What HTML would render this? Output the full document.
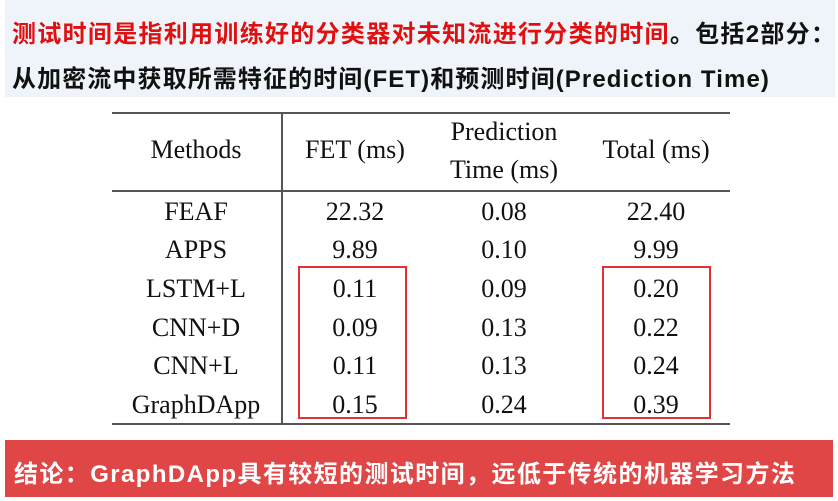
<!DOCTYPE html>
<html><head><meta charset="utf-8"><style>
body{margin:0;width:838px;height:501px;background:#fff;position:relative;overflow:hidden;font-family:"Liberation Sans","Noto Sans CJK SC",sans-serif}
.top{position:absolute;left:5px;top:0;width:830px;height:97px;background:#eef4f9}
.t{position:absolute;left:12px;font-weight:bold;font-size:24px;white-space:nowrap}
.line{position:absolute;background:#555}
.c{position:absolute;font-family:"Liberation Serif",serif;font-size:26px;color:#111;transform:translate(-50%,-50%);white-space:nowrap}
.box{position:absolute;border:2px solid #d33;box-sizing:border-box}
.banner{position:absolute;left:5px;top:440px;width:828px;height:57px;background:#e04646}
</style></head><body>
<div class="top"></div>
<div class="t" style="top:14px;color:#e01010;letter-spacing:1.3px">测试时间是指利用训练好的分类器对未知流进行分类的时间<span style="color:#111">。包括2部分：</span></div>
<div class="t" style="top:59px;color:#111;letter-spacing:1.1px">从加密流中获取所需特征的时间(FET)和预测时间(Prediction Time)</div>
<div class="line" style="left:112px;top:112px;width:618px;height:2px"></div>
<div class="line" style="left:112px;top:190px;width:618px;height:2px"></div>
<div class="line" style="left:112px;top:423px;width:618px;height:2px"></div>
<div class="line" style="left:281px;top:112px;width:2px;height:313px"></div>
<div class="box" style="left:298px;top:266px;width:109px;height:153px"></div>
<div class="box" style="left:602px;top:266px;width:109px;height:153px"></div>
<div id="tbl"></div>
<div class="banner"></div>
<div class="t" style="top:454px;left:14px;color:#fff;letter-spacing:1.4px">结论：GraphDApp具有较短的测试时间，远低于传统的机器学习方法</div>
<script>
const methods=["FEAF","APPS","LSTM+L","CNN+D","CNN+L","GraphDApp"];
const fet=["22.32","9.89","0.11","0.09","0.11","0.15"];
const pred=["0.08","0.10","0.09","0.13","0.13","0.24"];
const total=["22.40","9.99","0.20","0.22","0.24","0.39"];
const colX=[196,355,504,656];
const rowY=[212,250,289,328,366,405];
const t=document.getElementById('tbl');
function cell(x,y,txt,name){const d=document.createElement('div');d.className='c';d.style.left=x+'px';d.style.top=y+'px';d.textContent=txt;


t.appendChild(d);}
cell(196,150,"Methods","header-methods");
cell(355,150,"FET (ms)","header-fet");
cell(504,132,"Prediction","header-prediction");
cell(504,170,"Time (ms)","header-prediction-unit");
cell(656,150,"Total (ms)","header-total");
methods.forEach((m,i)=>{
cell(colX[0],rowY[i],m,"method-cell");
cell(colX[1],rowY[i],fet[i],"fet-cell");
cell(colX[2],rowY[i],pred[i],"prediction-cell");
cell(colX[3],rowY[i],total[i],"total-cell");
});
</script>
</body></html>
